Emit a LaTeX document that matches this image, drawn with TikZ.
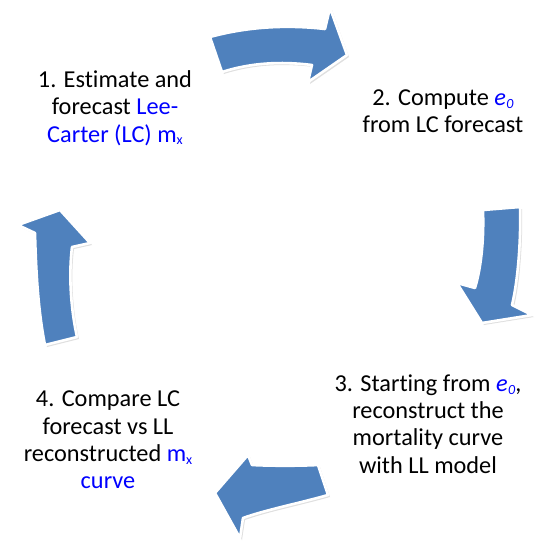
\documentclass[tikz,border=0pt]{standalone}
\usepackage{fontspec}
\setmainfont{Carlito}[Ligatures=NoCommon]
\usetikzlibrary{shadows}
\definecolor{arrowblue}{RGB}{79,129,189}
\definecolor{txtblue}{RGB}{0,0,255}
\newcommand{\subfnt}{\fontsize{14}{14}\selectfont}
\newcommand{\eo}{\textcolor{txtblue}{\textit{e\kern0.5pt\raisebox{-0.3ex}{\subfnt 0}}}}
\newcommand{\mxx}{\textcolor{txtblue}{m\raisebox{-0.25ex}{\subfnt x}}}
\begin{document}
\begin{tikzpicture}[x=1pt,y=-1pt,
  blockarrow/.style={fill=arrowblue,draw=white,line width=2.6pt,line join=round,
    drop shadow={opacity=0.25,shadow xshift=2pt,shadow yshift=-2pt}},
  steptext/.style={align=center,inner sep=0pt,font=\fontsize{24.3}{27.3}\selectfont}]
\useasboundingbox (0,0) rectangle (535,542);
% arrow 1 (top, to the right)
\path[blockarrow] (210,37) .. controls (250,26) and (290,25) .. (325,29) -- (330,8) -- (347,55) -- (308,82) -- (312,65) .. controls (280,61) and (250,63) .. (222,72) -- cycle;
% arrow 2 (right, downwards)
\path[blockarrow] (483,210) -- (520,207) .. controls (521,240) and (518,280) .. (512,305) -- (532,315) -- (482,323) -- (457,283) -- (475,288) .. controls (482,265) and (484,235) .. (483,210) -- cycle;
% arrow 3 (bottom, to the left)
\path[blockarrow] (318,465) .. controls (300,466) and (270,466) .. (252,465) -- (248,455) -- (215,493) -- (240,538) -- (243,518) .. controls (265,510) and (300,503) .. (328,495) -- cycle;
% arrow 4 (left, upwards)
\path[blockarrow] (60,210) -- (90,243) -- (72,247) .. controls (68,280) and (72,315) .. (77,337) -- (45,345) .. controls (38,310) and (36,270) .. (35,233) -- (18,225) -- cycle;
% texts
\node[steptext] (s1) at (115,108) {1. Estimate and\\forecast \textcolor{txtblue}{Lee-}\\\textcolor{txtblue}{Carter (LC)} \mxx};
\node[steptext] (s2) at (443,111) {2. Compute \eo\\from LC forecast};
\node[steptext] (s3) at (428,424) {3. Starting from \eo,\\reconstruct the\\mortality curve\\with LL model};
\node[steptext] (s4) at (108,440) {4. Compare LC\\forecast vs LL\\reconstructed \mxx\\\textcolor{txtblue}{curve}};
\end{tikzpicture}
\end{document}
